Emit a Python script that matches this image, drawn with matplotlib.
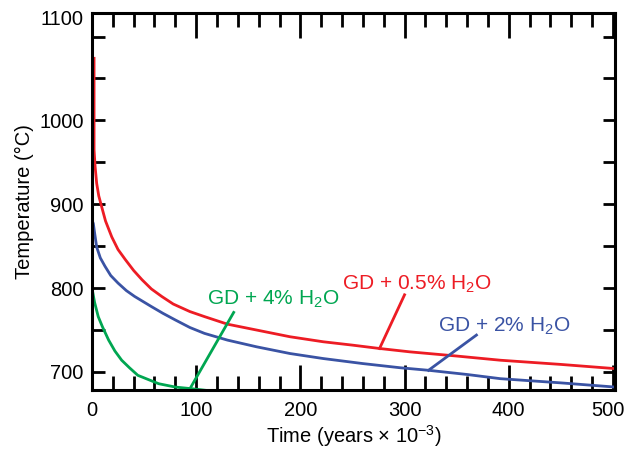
import numpy as np
import matplotlib.pyplot as plt
import matplotlib.transforms as mtransforms
from matplotlib.ticker import MultipleLocator, FixedLocator

plt.rcParams['font.family'] = ['Liberation Sans', 'DejaVu Sans']
plt.rcParams['mathtext.fontset'] = 'custom'
plt.rcParams['mathtext.rm'] = 'Liberation Sans'

# cooling curves (time in years x 10^-3, temperature in C)
red_x = [2, 2, 2, 3, 4.5, 6.5, 9.3, 13, 19, 25, 32, 40, 48, 57, 67, 78, 94, 108,
         130, 158, 190, 222, 250, 276, 305, 350, 392, 450, 502]
red_y = [1074, 1020, 965, 945, 925, 910, 897, 880, 861, 846, 834, 821, 810, 799, 790, 781, 772, 766,
         757, 750, 742, 736, 732, 728, 724, 719, 714, 709, 704]

blue_x = [0.3, 1.3, 2.5, 4.5, 8, 12.5, 18, 25, 33, 41, 49, 57, 68, 80, 94, 108,
          130, 158, 190, 222, 260, 296, 323, 360, 392, 450, 502]
blue_y = [880, 877, 866, 849, 836, 826, 815, 806, 797, 790, 784, 778, 770, 762, 753, 746,
          738, 730, 722, 716, 710, 705, 702, 697, 692, 687, 682]

green_x = [0.3, 2.5, 6, 10, 16, 22, 28.5, 36, 44, 54, 64, 80, 96, 110]
green_y = [798, 783, 766, 754, 738, 725, 714, 705, 696, 691, 686, 682, 680, 678]

RED = '#ed1c24'
BLUE = '#3a53a4'
GREEN = '#00a651'

fig = plt.figure(figsize=(6.24, 4.49), dpi=100)
ax = fig.add_axes([0.1474, 0.1314, 0.8382, 0.8396])

ax.plot(red_x, red_y, color=RED, lw=2, solid_joinstyle='round')
ax.plot(blue_x, blue_y, color=BLUE, lw=2, solid_joinstyle='round')
ax.plot(green_x, green_y, color=GREEN, lw=2, solid_joinstyle='round')

# labels with leader lines
ax.plot([136, 94], [771, 680], color=GREEN, lw=2)
ax.text(110, 780, r'GD + 4% H$_\mathregular{2}$O', color=GREEN, fontsize=15, va='baseline')
ax.plot([300, 276], [792, 728], color=RED, lw=2)
ax.text(240, 798, r'GD + 0.5% H$_\mathregular{2}$O', color=RED, fontsize=15, va='baseline')
ax.plot([369, 323], [744, 702], color=BLUE, lw=2)
ax.text(332, 748, r'GD + 2% H$_\mathregular{2}$O', color=BLUE, fontsize=15, va='baseline')

ax.set_xlim(0, 502)
ax.set_ylim(678.5, 1128)

ax.xaxis.set_major_locator(FixedLocator([0, 100, 200, 300, 400, 500]))
ax.xaxis.set_minor_locator(MultipleLocator(20))
ax.yaxis.set_major_locator(FixedLocator([700, 800, 900, 1000, 1123]))
ax.set_yticklabels(['700', '800', '900', '1000', '1100'])
ax.yaxis.set_minor_locator(FixedLocator([750, 850, 950, 1050, 1100]))

ax.tick_params(axis='both', which='both', direction='in', top=True, right=True,
               labelsize=14.5, width=2)
ax.tick_params(axis='x', which='major', length=18, pad=8)
ax.tick_params(axis='x', which='minor', length=10)
ax.tick_params(axis='y', which='both', length=9, pad=6)

# the "1100" label sits at the top edge without a tick of its own
top_tick = ax.yaxis.get_major_ticks()[-1]
top_tick.tick1line.set_visible(False)
top_tick.tick2line.set_visible(False)

# nudge the last x label inward like the original
lbl = ax.get_xticklabels()[-1]
lbl.set_transform(lbl.get_transform() + mtransforms.ScaledTranslation(-5 / 100, 0, fig.dpi_scale_trans))

for s in ax.spines.values():
    s.set_linewidth(2.2)

ax.set_xlabel(r'Time (years × 10$^{\mathregular{-3}}$)', fontsize=14.5, labelpad=2)
ax.set_ylabel('Temperature (°C)', fontsize=14.5, labelpad=4)

fig.savefig('out.png', dpi=100)
